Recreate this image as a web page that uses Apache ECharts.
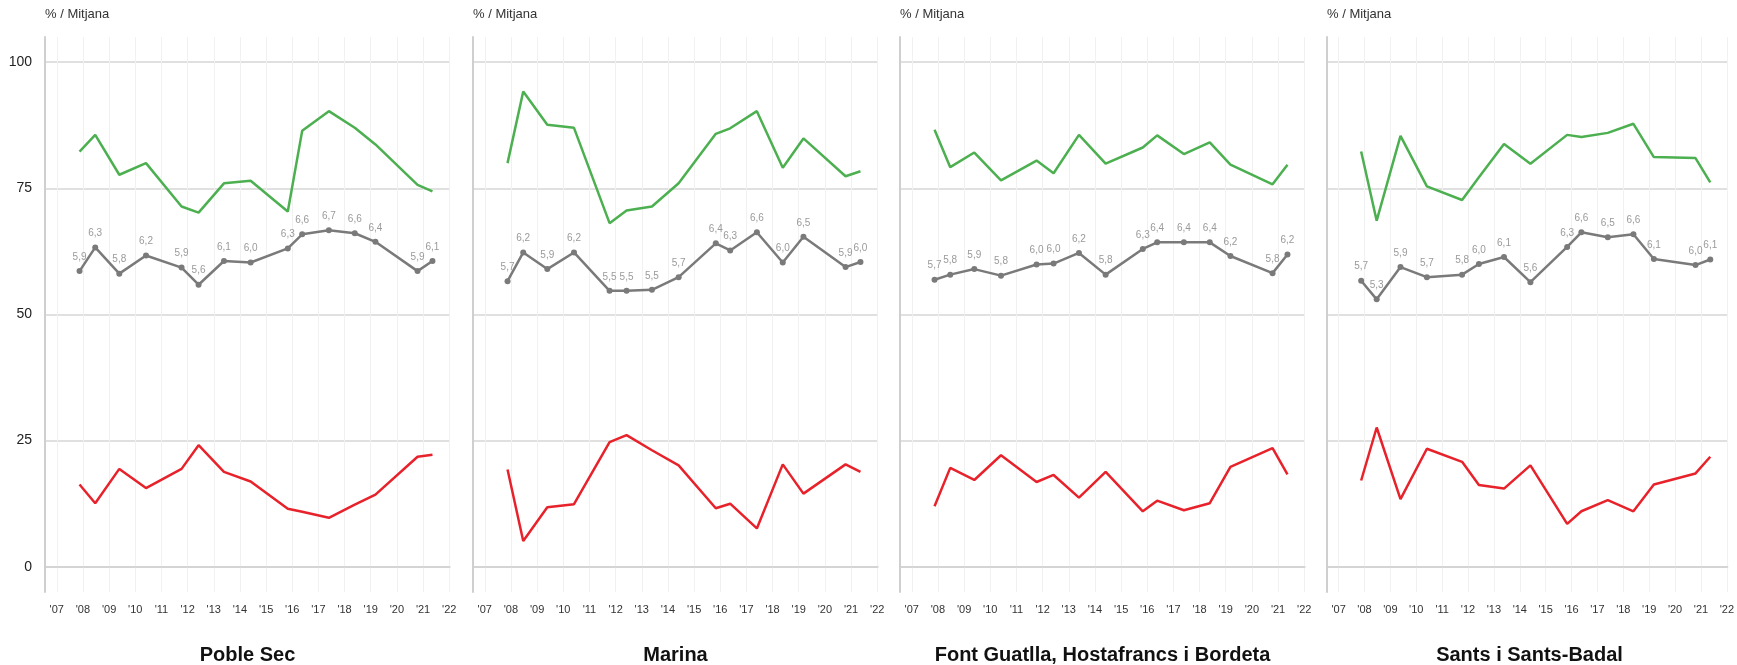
<!DOCTYPE html>
<html>
<head>
<meta charset="utf-8">
<script src="https://cdn.jsdelivr.net/npm/echarts@6/dist/echarts.min.js"></script>
<style>
  html, body { margin: 0; padding: 0; background: #fff; }
  #main { width: 1737px; height: 665px; }
</style>
</head>
<body>
<div id="main"></div>
<script>
var chartDom = document.getElementById('main');
var myChart = echarts.init(chartDom);
var option;

// dates of each survey (fraction of year)
var surveyYears = [2007.87, 2008.47, 2009.39, 2010.41, 2011.77, 2012.42, 2013.39, 2014.41,
                   2015.83, 2016.38, 2017.40, 2018.39, 2019.18, 2020.79, 2021.36];
var yearTicks = [2007, 2008, 2009, 2010, 2011, 2012, 2013, 2014, 2015, 2016, 2017, 2018, 2019, 2020, 2021, 2022];
var yTicks = [0, 25, 50, 75, 100];

var barris = ['Poble Sec', 'Marina', 'Font Guatlla, Hostafrancs i Bordeta', 'Sants i Sants-Badal'];

// % verd
var pctGreen = [
    [82.3, 85.6, 77.7, 80.0, 71.4, 70.2, 76.0, 76.5, 70.4, 86.4, 90.3, 87.0, 83.7, 75.7, 74.4],
    [80.0, 94.2, 87.6, 87.0, 68.1, 70.6, 71.4, 76.0, 85.8, 86.9, 90.3, 79.1, 84.9, 77.4, 78.4],
    [86.6, 79.2, 82.1, 76.6, 80.5, 78.0, 85.6, 79.9, 83.1, 85.5, 81.8, 84.1, 79.7, 75.8, 79.7],
    [82.3, 68.6, 85.4, 75.4, 72.7, 77.2, 83.8, 79.9, 85.6, 85.2, 86.0, 87.8, 81.2, 81.0, 76.2]
];
// % vermell
var pctRed = [
    [16.3, 12.6, 19.4, 15.6, 19.4, 24.1, 18.8, 16.9, 11.5, 10.9, 9.7, 12.3, 14.3, 21.8, 22.2],
    [19.3, 5.1, 11.8, 12.4, 24.7, 26.1, 23.1, 20.1, 11.6, 12.5, 7.6, 20.3, 14.5, 20.3, 18.8],
    [12.0, 19.6, 17.2, 22.1, 16.8, 18.2, 13.7, 18.8, 11.0, 13.1, 11.2, 12.6, 19.8, 23.5, 18.3],
    [17.1, 27.6, 13.4, 23.4, 20.8, 16.2, 15.5, 20.1, 8.5, 11.0, 13.2, 11.0, 16.3, 18.5, 21.8]
];
// mitjana (0-10)
var mitjana = [
    [5.86, 6.33, 5.81, 6.17, 5.93, 5.59, 6.06, 6.03, 6.31, 6.59, 6.67, 6.61, 6.44, 5.86, 6.06],
    [5.66, 6.23, 5.90, 6.23, 5.47, 5.47, 5.49, 5.74, 6.41, 6.27, 6.63, 6.03, 6.54, 5.94, 6.04],
    [5.69, 5.79, 5.90, 5.77, 5.99, 6.01, 6.22, 5.79, 6.30, 6.43, 6.43, 6.43, 6.16, 5.82, 6.19],
    [5.67, 5.30, 5.94, 5.74, 5.79, 6.00, 6.14, 5.64, 6.34, 6.63, 6.53, 6.59, 6.10, 5.98, 6.09]
];

var gridLefts = [45, 473, 900, 1327];
var gridWidth = 405;
var fontFam = '"Liberation Sans", Arial, sans-serif';

var grids = [], xAxes = [], yAxes = [], series = [], graphics = [];

barris.forEach(function (nom, i) {
    grids.push({ left: gridLefts[i], width: gridWidth, top: 37, height: 555 });

    xAxes.push({
        type: 'value', gridIndex: i, min: 2006.55, max: 2022.03,
        axisLine: { show: true, lineStyle: { color: '#cfcfcf', width: 1.5 } },
        axisTick: { show: false, customValues: yearTicks },
        axisLabel: {
            customValues: yearTicks, margin: 12, fontSize: 11, color: '#333', fontFamily: fontFam,
            formatter: function (v) { return "'" + String(Math.round(v)).slice(2); }
        },
        splitLine: { show: true, lineStyle: { color: '#f1f1f1', width: 1 } }
    });

    yAxes.push({
        type: 'value', gridIndex: i, min: -5, max: 105,
        axisLine: { show: true, lineStyle: { color: '#cfcfcf', width: 2 } },
        axisTick: { show: false, customValues: yTicks },
        axisLabel: {
            show: i === 0, customValues: yTicks, margin: 13, fontSize: 14, color: '#222',
            fontFamily: fontFam, padding: [10, 0, 0, 0]
        },
        splitLine: { show: true, lineStyle: { color: '#d6d6d6', width: 1.5 } }
    });

    series.push({
        type: 'line', xAxisIndex: i, yAxisIndex: i, name: 'verd',
        data: surveyYears.map(function (x, k) { return [x, pctGreen[i][k]]; }),
        showSymbol: false, lineStyle: { color: '#4caf50', width: 2.5 }, itemStyle: { color: '#4caf50' },
        silent: true, animation: false
    });
    series.push({
        type: 'line', xAxisIndex: i, yAxisIndex: i, name: 'vermell',
        data: surveyYears.map(function (x, k) { return [x, pctRed[i][k]]; }),
        showSymbol: false, lineStyle: { color: '#e8222b', width: 2.5 }, itemStyle: { color: '#e8222b' },
        silent: true, animation: false
    });
    series.push({
        type: 'line', xAxisIndex: i, yAxisIndex: i, name: 'mitjana',
        data: surveyYears.map(function (x, k) { return [x, mitjana[i][k] * 10, mitjana[i][k]]; }),
        symbol: 'circle', symbolSize: 6,
        lineStyle: { color: '#7a7a7a', width: 2.5 }, itemStyle: { color: '#7a7a7a' },
        label: {
            show: true, position: 'top', distance: 6, fontSize: 10, color: '#9a9a9a', fontFamily: fontFam,
            formatter: function (p) { return p.data[2].toFixed(1).replace('.', ','); }
        },
        labelLayout: { hideOverlap: false },
        silent: true, animation: false
    });

    graphics.push({
        type: 'text', left: gridLefts[i], top: 8,
        style: { text: '% / Mitjana', fontSize: 13, fill: '#333', fontFamily: fontFam }
    });
    graphics.push({
        type: 'text', x: gridLefts[i] + gridWidth / 2, y: 655,
        style: {
            text: nom, fontSize: 20, fontWeight: 'bold', fill: '#111', fontFamily: fontFam,
            textAlign: 'center', textVerticalAlign: 'middle'
        }
    });
});

option = {
    backgroundColor: '#fff',
    animation: false,
    grid: grids,
    xAxis: xAxes,
    yAxis: yAxes,
    series: series,
    graphic: graphics
};

option && myChart.setOption(option);
</script>
</body>
</html>
